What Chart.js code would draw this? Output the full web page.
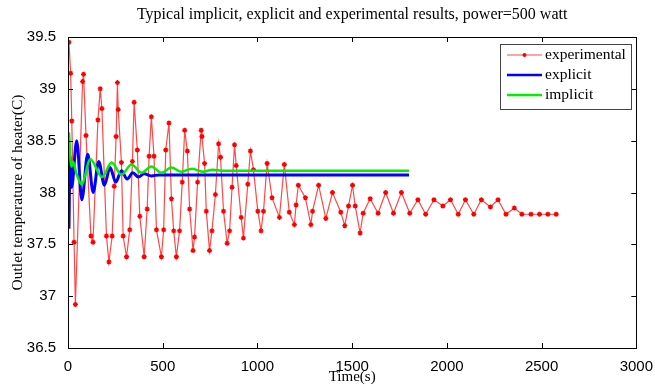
<!DOCTYPE html>
<html><head><meta charset="utf-8">
<script src="https://cdn.jsdelivr.net/npm/chart.js@4/dist/chart.umd.min.js"></script>
<style>html,body{margin:0;padding:0;background:#fff}#wrap{width:655px;height:388px}</style>
</head><body><div id="wrap"><canvas id="c" width="655" height="388"></canvas></div>
<script>
// ---- data ----
const expTime = [5,14,20,32,39,77,82,95,121,132,158,170,179,203,216,233,244,254,261,265,282,291,309,326,340,349,366,379,402,418,428,440,454,467,493,505,516,533,546,558,572,589,603,616,630,642,660,668,684,703,707,721,730,747,760,778,795,805,821,840,853,866,879,888,914,926,949,963,979,1002,1019,1032,1051,1077,1116,1142,1168,1195,1204,1216,1253,1282,1291,1323,1361,1396,1440,1461,1481,1502,1516,1542,1558,1595,1637,1677,1718,1760,1804,1847,1888,1932,1979,2019,2060,2098,2142,2182,2230,2270,2312,2356,2396,2444,2489,2533,2577];
const expTemp = [39.45,39.15,38.69,37.52,36.92,39.07,39.14,38.55,37.58,37.52,38.70,39.00,38.81,37.58,37.33,37.58,38.06,38.54,39.06,38.80,38.29,37.58,37.38,37.64,38.30,38.87,38.41,37.77,37.38,37.84,38.35,38.73,38.35,37.64,37.38,37.64,38.41,38.67,37.94,37.63,37.38,37.63,38.10,38.60,38.40,37.84,37.44,37.57,38.10,38.60,38.54,38.28,37.82,37.44,37.63,37.98,38.47,38.34,37.82,37.51,37.63,38.05,38.46,38.26,37.76,37.56,38.08,38.40,38.22,37.82,37.63,37.82,38.28,37.95,37.76,38.27,37.81,37.69,37.88,38.07,37.95,37.69,37.82,38.07,37.75,38.00,37.81,37.68,37.87,38.07,37.87,37.61,37.80,37.94,37.80,38.00,37.80,38.00,37.80,37.93,37.79,37.93,37.87,37.93,37.79,37.93,37.79,37.93,37.86,37.93,37.79,37.85,37.79,37.79,37.79,37.79,37.79];
const explTime = [5,11,19,46,73,104,133,162,192,222,252,282,312,342,372,402,440,480,1800];
const explTemp = [37.65,38.35,38.05,38.50,37.93,38.37,38.00,38.30,38.07,38.24,38.10,38.21,38.13,38.19,38.15,38.18,38.16,38.17,38.17];
const implTime = [5,18,26,45,72,118,180,230,282,335,388,440,493,546,600,655,710,765,820,900,1800];
const implTemp = [38.58,38.25,38.30,38.18,38.08,38.32,38.15,38.29,38.17,38.27,38.19,38.25,38.19,38.24,38.20,38.23,38.20,38.22,38.21,38.21,38.21];
const xTicks = [0,500,1000,1500,2000,2500,3000];
const yTicks = [36.5,37,37.5,38,38.5,39,39.5];
const seriesNames = ['experimental','explicit','implicit'];
const chartTitle = 'Typical implicit, explicit and experimental results, power=500 watt';
const xTitle = 'Time(s)';
const yTitle = 'Outlet temperature of heater(C)';

const pts = (xs, ys) => xs.map((x, i) => ({x: x, y: ys[i]}));
const SERIF = '"Liberation Serif", "Times New Roman", serif';
const SANS = '"Liberation Sans", Arial, sans-serif';

const boxPlugin = {
  id: 'boxPlugin',
  afterDatasetsDraw(chart) {
    const {ctx, chartArea: a, scales} = chart;
    ctx.save();
    ctx.strokeStyle = '#000';
    ctx.lineWidth = 1;
    ctx.beginPath();
    const L = 5;
    xTicks.forEach(v => {
      const px = Math.round(scales.x.getPixelForValue(v)) + 0.5;
      ctx.moveTo(px, a.bottom); ctx.lineTo(px, a.bottom - L);
      ctx.moveTo(px, a.top); ctx.lineTo(px, a.top + L);
    });
    yTicks.forEach(v => {
      const py = Math.round(scales.y.getPixelForValue(v)) + 0.5;
      ctx.moveTo(a.left, py); ctx.lineTo(a.left + L, py);
      ctx.moveTo(a.right, py); ctx.lineTo(a.right - L, py);
    });
    ctx.stroke();
    ctx.strokeRect(Math.round(a.left) + 0.5, Math.round(a.top) + 0.5, Math.round(a.right - a.left), Math.round(a.bottom - a.top));
    // title centred over the plot area
    ctx.fillStyle = '#000';
    ctx.font = '16px ' + SERIF;
    ctx.textAlign = 'center';
    ctx.textBaseline = 'middle';
    ctx.fillText(chartTitle, (a.left + a.right) / 2, 15);
    // legend
    const lx = 500, ly = 44, lw = 131, lh = 65;
    ctx.fillStyle = '#fff';
    ctx.fillRect(lx, ly, lw, lh);
    ctx.strokeStyle = '#444';
    ctx.strokeRect(lx + 0.5, ly + 0.5, lw, lh);
    const ds = chart.data.datasets;
    ds.forEach((d, i) => {
      const y = ly + 11 + i * 20;
      ctx.strokeStyle = d.borderColor;
      ctx.lineWidth = i === 0 ? 1.2 : 2.5;
      ctx.beginPath(); ctx.moveTo(lx + 7, y); ctx.lineTo(lx + 42, y); ctx.stroke();
      if (i === 0) {
        ctx.fillStyle = '#ff0000';
        ctx.beginPath(); ctx.arc(lx + 24.5, y, 2, 0, Math.PI * 2); ctx.fill();
      }
      ctx.fillStyle = '#000';
      ctx.font = '15.5px ' + SERIF;
      ctx.textAlign = 'left';
      ctx.textBaseline = 'middle';
      ctx.fillText(d.label, lx + 45, y);
    });
    ctx.restore();
  }
};

new Chart(document.getElementById('c'), {
  type: 'line',
  data: {
    datasets: [
      {label: seriesNames[0], data: pts(expTime, expTemp), borderColor: 'rgba(255,40,40,0.85)', borderWidth: 1.2,
       pointStyle: 'star', pointRadius: 2.5, pointBorderColor: '#ff0000', pointBackgroundColor: '#ff0000', pointBorderWidth: 1.3, order: 3, tension: 0},
      {label: seriesNames[1], data: pts(explTime, explTemp), borderColor: '#0000ff', borderWidth: 3, pointRadius: 0,
       cubicInterpolationMode: 'monotone', order: 2},
      {label: seriesNames[2], data: pts(implTime, implTemp), borderColor: '#00ee00', borderWidth: 2.5, pointRadius: 0,
       cubicInterpolationMode: 'monotone', order: 1}
    ]
  },
  options: {
    responsive: false, animation: false, devicePixelRatio: 1,
    layout: {padding: {left: 0, right: 17, top: 37, bottom: 0}},
    plugins: {legend: {display: false}, title: {display: false}, tooltip: {enabled: false}},
    scales: {
      x: {type: 'linear', min: 0, max: 3000,
        afterBuildTicks: s => { s.ticks = xTicks.map(v => ({value: v})); },
        afterFit: s => { s.height = 40; },
        grid: {display: false}, border: {display: false},
        ticks: {font: {family: SANS, size: 15}, color: '#000', padding: 2, maxRotation: 0, autoSkip: false, callback: v => String(v)},
        title: {display: true, text: xTitle, font: {family: SERIF, size: 15}, color: '#000', padding: {top: 0, bottom: 2}}},
      y: {type: 'linear', min: 36.5, max: 39.5,
        afterBuildTicks: s => { s.ticks = yTicks.map(v => ({value: v})); },
        afterFit: s => { s.width = 68; },
        grid: {display: false}, border: {display: false},
        ticks: {font: {family: SANS, size: 15}, color: '#000', padding: 4, autoSkip: false, callback: v => String(v)},
        title: {display: true, text: yTitle, font: {family: SERIF, size: 15.5}, color: '#000', padding: {top: 9, bottom: 0}}}
    }
  },
  plugins: [boxPlugin]
});
</script></body></html>
